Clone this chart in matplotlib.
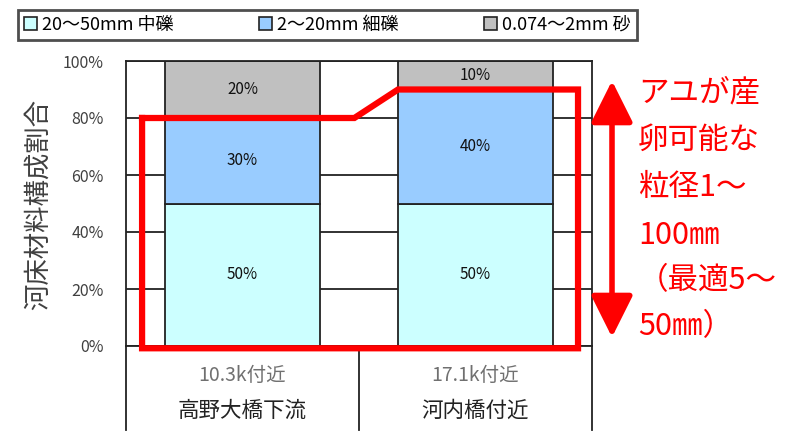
import matplotlib
matplotlib.use("Agg")
import matplotlib.pyplot as plt
from matplotlib.patches import Patch, FancyArrowPatch
from matplotlib.lines import Line2D
import numpy as np

plt.rcParams['font.family'] = ['Noto Sans CJK JP', 'DejaVu Sans']

categories_top = ["10.3k付近", "17.1k付近"]
categories_bottom = ["高野大橋下流", "河内橋付近"]
series_names = ["20～50mm 中礫", "2～20mm 細礫", "0.074～2mm 砂"]
medium_gravel = [50, 50]
fine_gravel = [30, 40]
sand = [20, 10]
series_values = [medium_gravel, fine_gravel, sand]
colors = ["#CCFFFF", "#99CCFF", "#C0C0C0"]
yticks = [0, 20, 40, 60, 80, 100]
ylabel = "河床材料構成割合"
note_lines = ["アユが産", "卵可能な", "粒径1～", "100㎜", "（最適5～", "50㎜）"]

W, H = 787, 438
fig = plt.figure(figsize=(W / 100, H / 100), dpi=100)
L, R, T, B = 126, 592, 61, 346
ax = fig.add_axes([L / W, 1 - B / H, (R - L) / W, (B - T) / H])

x = np.arange(len(categories_top))
width = 0.665
bottom = np.zeros(len(x))
for vals, col in zip(series_values, colors):
    vals = np.array(vals, dtype=float)
    ax.bar(x, vals, width, bottom=bottom, color=col, edgecolor="#222222",
           linewidth=1.3, zorder=2)
    for xi, v, b in zip(x, vals, bottom):
        ax.text(xi, b + v / 2, f"{int(v)}%", ha="center", va="center",
                fontsize=11, color="#111111", zorder=3)
    bottom += vals

ax.set_xlim(-0.5, len(x) - 0.5)
ax.set_ylim(0, 100)
ax.set_yticks(yticks)
ax.set_yticklabels([f"{t}%" for t in yticks], fontsize=11.5, color="#404040")
ax.tick_params(axis="y", length=0, pad=16)
ax.set_xticks([])
ax.grid(axis="y", color="#222222", linewidth=1.3, zorder=1)
ax.set_axisbelow(True)
for s in ax.spines.values():
    s.set_color("#222222")
    s.set_linewidth(1.3)

fig.text(38 / W, 1 - 205 / H, ylabel, rotation=90, ha="center", va="center",
         fontsize=19, color="#404040")

# category labels and separators
for i in range(len(x) + 1):
    xd = -0.5 + i
    ax.plot([xd, xd], [0, -29.5], color="#222222", lw=1.3, clip_on=False)
for xi, t1, t2 in zip(x, categories_top, categories_bottom):
    ax.text(xi, -10.5, t1, ha="center", va="center", fontsize=14, color="#707070",
            clip_on=False)
    ax.text(xi, -22.8, t2, ha="center", va="center", fontsize=15.5, color="#222222",
            clip_on=False)

# red outline around spawnable range
lvl0 = medium_gravel[0] + fine_gravel[0]
lvl1 = medium_gravel[1] + fine_gravel[1]
px = [-0.431, 0.48, 1 - width / 2, 1.44, 1.44, -0.431, -0.431]
py = [lvl0, lvl0, lvl1, lvl1, -0.8, -0.8, lvl0]
ax.add_line(Line2D(px, py, color="#FF0000", lw=4.5, clip_on=False, zorder=5,
                   solid_joinstyle="miter"))

# double arrow
fig.add_artist(FancyArrowPatch(
    (612 / W, 1 - 340 / H), (612 / W, 1 - 78 / H), transform=fig.transFigure,
    arrowstyle="<|-|>,head_length=1.6,head_width=0.8", color="#FF0000", lw=4,
    mutation_scale=16))

# note text
ys = [93, 140, 187, 235, 281, 327]
for yy, t in zip(ys, note_lines):
    fig.text(638 / W, 1 - yy / H, t, ha="left", va="center", fontsize=22,
             color="#FF0000")

# legend
handles = [Patch(facecolor=c, edgecolor="#222222", linewidth=1.2) for c in colors]
leg = fig.legend(handles, series_names, loc="center",
                 bbox_to_anchor=(18 / W, 1 - 45 / H, 619 / W, 40 / H),
                 mode="expand", ncol=3, fontsize=13, frameon=True, fancybox=False,
                 handlelength=0.7, handleheight=0.7, handletextpad=0.3,
                 borderaxespad=0, borderpad=0.35)
leg.get_frame().set_edgecolor("#222222")
leg.get_frame().set_linewidth(2)

fig.savefig("out.png", dpi=100)
